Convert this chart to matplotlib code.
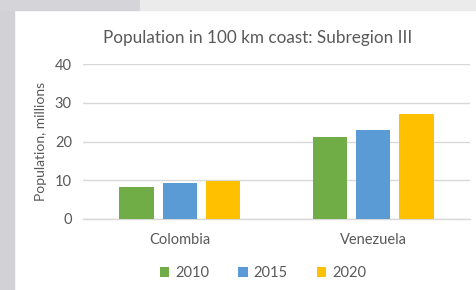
import matplotlib.pyplot as plt
import numpy as np
from matplotlib.patches import Rectangle

plt.rcParams["font.family"] = ["Lato", "DejaVu Sans"]

countries = ["Colombia", "Venezuela"]
years = ["2010", "2015", "2020"]
pop_2010 = [8.3, 21.2]
pop_2015 = [9.3, 23.0]
pop_2020 = [9.9, 27.0]
series = [pop_2010, pop_2015, pop_2020]
colors = ["#70AD47", "#5B9BD5", "#FFC000"]

W, H = 477, 290
fig = plt.figure(figsize=(W / 100, H / 100), dpi=100)
fig.patch.set_facecolor("white")

# grey slide background around the chart panel
fig.add_artist(Rectangle((0, 0), 14 / W, 1, transform=fig.transFigure,
                         color="#D1D1D6", zorder=0))
fig.add_artist(Rectangle((0, 1 - 10 / H), 140 / W, 10 / H, transform=fig.transFigure,
                         color="#D4D4D9", zorder=0))
fig.add_artist(Rectangle((140 / W, 1 - 10 / H), 1, 10 / H, transform=fig.transFigure,
                         color="#EBEBEB", zorder=0))

ax = fig.add_axes([83 / W, 1 - 219 / H, (470 - 83) / W, (219 - 64) / H])

x = np.arange(len(countries))
width = 0.178
step = 0.224
for i, (vals, c, lab) in enumerate(zip(series, colors, years)):
    ax.bar(x + (i - 1) * step, vals, width, color=c, label=lab, zorder=3)

ax.set_xlim(-0.5, 1.5)
ax.set_ylim(0, 40)
ax.set_yticks([0, 10, 20, 30, 40])
ax.grid(axis="y", color="#D9D9D9", linewidth=1, zorder=0)
ax.axhline(0, color="#D9D9D9", linewidth=1, zorder=1, clip_on=False)
for s in ax.spines.values():
    s.set_visible(False)
ax.tick_params(length=0, colors="#595959", labelsize=10.5)
ax.tick_params(axis="y", pad=8)
ax.tick_params(axis="x", pad=10)
ax.set_xticks(x)
ax.set_xticklabels(countries)
ax.set_ylabel("Population, millions", color="#595959", fontsize=10, labelpad=6)

fig.text(258 / W, 1 - 38 / H, "Population in 100 km coast: Subregion III",
         ha="center", va="center", fontsize=12.3, color="#595959")

fig.legend(loc="center", bbox_to_anchor=(263 / W, 1 - 273 / H), ncol=3,
           frameon=False, fontsize=10.5, handlelength=0.65, handleheight=0.65,
           columnspacing=2.0, handletextpad=0.4, labelcolor="#595959")

fig.savefig("out.png", dpi=100)
